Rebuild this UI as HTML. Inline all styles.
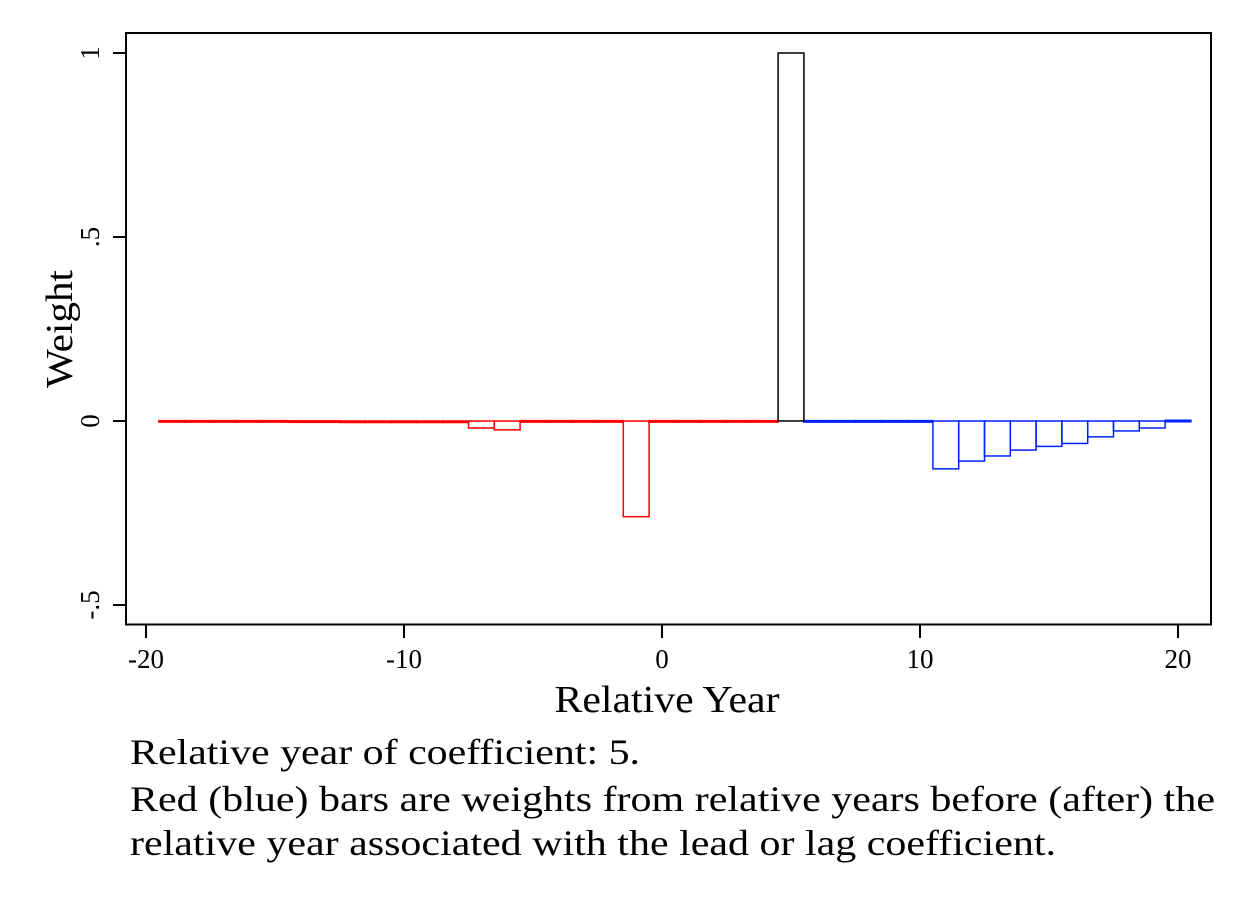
<!DOCTYPE html>
<html><head><meta charset="utf-8"><style>
body{margin:0;background:#fff;}
svg{display:block;font-family:"Liberation Serif",serif;}
</style></head><body>
<svg id="chart" width="1244" height="904">
<rect x="126" y="33" width="1085" height="591.5" fill="none" stroke="#000" stroke-width="2"/>
<g id="bars"></g><g id="axes"></g>
<text x="667" y="712" font-size="38" text-anchor="middle" textLength="225" lengthAdjust="spacingAndGlyphs">Relative Year</text>
<text transform="translate(72,329) rotate(-90)" font-size="38" text-anchor="middle" textLength="118" lengthAdjust="spacingAndGlyphs">Weight</text>
<text x="130" y="764" font-size="36" textLength="510" lengthAdjust="spacingAndGlyphs">Relative year of coefficient: 5.</text>
<text x="130" y="811" font-size="36" textLength="1085" lengthAdjust="spacingAndGlyphs">Red (blue) bars are weights from relative years before (after) the</text>
<text x="130" y="855" font-size="36" textLength="926" lengthAdjust="spacingAndGlyphs">relative year associated with the lead or lag coefficient.</text>
</svg>
<script>
const redYears=[-19,-18,-17,-16,-15,-14,-13,-12,-11,-10,-9,-8,-7,-6,-5,-4,-3,-2,-1,0,1,2,3,4];
const redVals=[0.001,0.001,0.001,0.001,0.001,0.0005,0.0005,-0.001,-0.001,-0.003,-0.003,-0.002,-0.019,-0.024,0.001,0.001,0.001,0.001,-0.26,0.001,0.001,0.001,0.001,0.001];
const blueYears=[6,7,8,9,10,11,12,13,14,15,16,17,18,19,20];
const blueVals=[0.001,0.001,0.001,0.001,0.001,-0.13,-0.109,-0.095,-0.079,-0.069,-0.061,-0.043,-0.027,-0.019,0.002];
const focusYears=[5];
const focusVals=[1];
const xTicks=[-20,-10,0,10,20];
const yTicks=[-0.5,0,0.5,1];
const yTickLabels=["-.5","0",".5","1"];
const X=v=>662+v*25.8;
const Y=v=>421-v*368;
const NS="http://www.w3.org/2000/svg";
const bars=document.getElementById('bars'),axes=document.getElementById('axes');
function drawBars(years,vals,color,name){
  years.forEach((yr,i)=>{
    const v=vals[i];const r=document.createElementNS(NS,'rect');
    const y0=Math.min(Y(v),Y(0)),h=Math.max(Math.abs(Y(v)-Y(0)),1.5);
    r.setAttribute('x',X(yr-0.5));r.setAttribute('y',y0);
    r.setAttribute('width',X(yr+0.5)-X(yr-0.5));r.setAttribute('height',h);
    r.setAttribute('fill','none');r.setAttribute('stroke',color);r.setAttribute('stroke-width','1.5');
    
    
    bars.appendChild(r);
  });
}
drawBars(redYears,redVals,'#ff0000','red');
drawBars(blueYears,blueVals,'#0022ff','blue');
drawBars(focusYears,focusVals,'#000','coefficient');
xTicks.forEach(t=>{
  const l=document.createElementNS(NS,'line');
  l.setAttribute('x1',X(t));l.setAttribute('x2',X(t));l.setAttribute('y1',625);l.setAttribute('y2',638);l.setAttribute('stroke','#000');l.setAttribute('stroke-width','2');
  
  
  axes.appendChild(l);
  const tx=document.createElementNS(NS,'text');
  tx.setAttribute('x',X(t));tx.setAttribute('y',668);tx.setAttribute('font-size','27');tx.setAttribute('text-anchor','middle');tx.textContent=t;
  
  
  axes.appendChild(tx);
});
yTicks.forEach((t,i)=>{
  const l=document.createElementNS(NS,'line');
  l.setAttribute('x1',113);l.setAttribute('x2',126);l.setAttribute('y1',Y(t));l.setAttribute('y2',Y(t));l.setAttribute('stroke','#000');l.setAttribute('stroke-width','2');
  
  
  axes.appendChild(l);
  const tx=document.createElementNS(NS,'text');
  tx.setAttribute('transform','translate(99,'+Y(t)+') rotate(-90)');tx.setAttribute('font-size','27');tx.setAttribute('text-anchor','middle');tx.textContent=yTickLabels[i];
  
  
  axes.appendChild(tx);
});
</script>
</body></html>
